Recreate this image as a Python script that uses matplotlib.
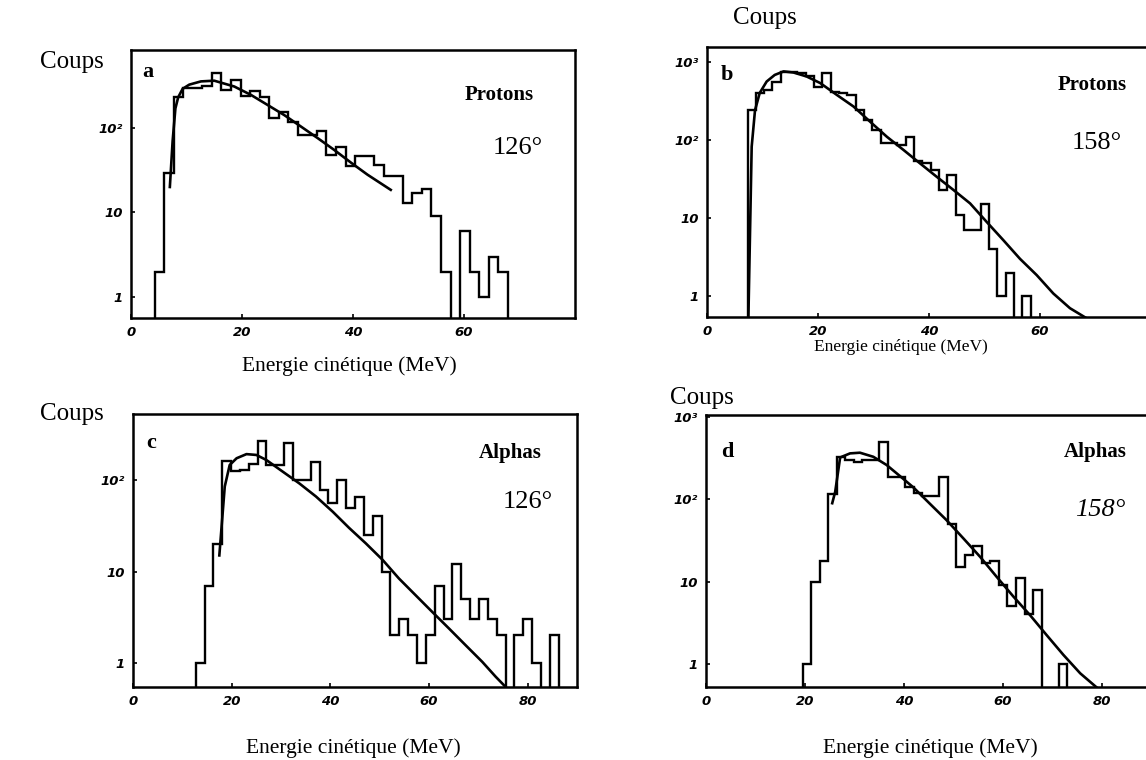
import matplotlib.pyplot as plt
import numpy as np

# --- histogrammes (coups par canal) et ajustements ---
# a : protons 126 deg
a_start, a_width = 4.26, 1.72
a_counts = [2, 29, 235, 295, 300, 310, 445, 280, 370, 240, 270, 235, 130, 156,
            118, 83, 83, 93, 48, 60, 35, 47, 47, 36, 27, 27, 13, 17, 19, 9,
            2, 0, 6, 2, 1, 3, 2]
a_fit_E = [7.0, 7.5, 8.0, 8.5, 9.3, 10.5, 12.6, 15.0, 18.6, 21.6, 24.6, 27.6,
           30.6, 33.6, 36.6, 39.6, 42.6, 46.8]
a_fit_N = [20, 70, 170, 230, 290, 325, 355, 362, 309, 246, 187, 142,
           104, 76, 55, 39, 28, 18.5]

# b : protons 158 deg
b_start, b_width = 7.3, 1.5
b_counts = [240, 400, 430, 560, 740, 740, 720, 650, 480, 720, 415, 400, 380,
            240, 180, 134, 91, 91, 85, 110, 53, 50, 41, 23, 36, 11, 7, 7, 15,
            4, 1, 2, 0, 1]
b_fit_E = [7.45, 8.05, 8.65, 9.5, 10.75, 12.2, 13.8, 15.6, 17.95, 20.4, 23.4,
           26.4, 29.4, 32.4, 35.4, 38.4, 41.4, 44.4, 47.4, 50.4, 53.4, 56.4,
           59.4, 62.4, 65.4, 68.4]
b_fit_N = [0.5, 82, 240, 400, 560, 680, 755, 730, 650, 535, 377, 268, 171,
           110, 74.5, 50, 33.7, 22.9, 15.4, 8.9, 5.2, 3.0, 1.86, 1.08, 0.7, 0.52]

# c : alphas 126 deg
c_start, c_width = 12.7, 1.795
c_counts = [1, 7, 20, 160, 125, 128, 150, 270, 146, 146, 252, 100, 100, 156,
            78, 56, 100, 49, 66, 25, 40, 10, 2, 3, 2, 1, 2, 7, 3, 12, 5, 3, 5,
            3, 2, 0, 2, 3, 1, 0, 2]
c_fit_E = [17.5, 18.6, 19.6, 21.0, 23.0, 25.0, 27.0, 30.4, 33.7, 37.1, 40.5,
           43.8, 47.2, 50.6, 53.9, 57.3, 60.7, 64.0, 67.4, 70.8, 73.5, 75.5]
c_fit_N = [15, 85, 146, 173, 192, 188, 166, 123, 92, 66, 45, 30, 20.3, 13.4,
           8.4, 5.5, 3.6, 2.4, 1.57, 1.03, 0.71, 0.55]

# d : alphas 158 deg
d_start, d_width = 19.5, 1.725
d_counts = [1, 10, 18, 115, 325, 300, 288, 300, 300, 500, 189, 189, 140, 120,
            110, 110, 189, 51, 15, 21, 27, 17, 18, 9, 5, 11, 4, 8, 0, 0, 1]
d_fit_E = [25.5, 26.1, 27.1, 29.1, 31.1, 33.8, 36.5, 39.2, 41.9, 45.2, 48.6,
           52.0, 55.4, 58.7, 62.1, 65.5, 68.8, 72.2, 75.6, 78.9]
d_fit_N = [90, 124, 324, 363, 370, 330, 262, 192, 140, 89, 56, 33.6, 20, 11.5,
           6.6, 3.9, 2.25, 1.29, 0.77, 0.52]

W, H = 1146, 760
fig = plt.figure(figsize=(W / 100, H / 100), dpi=100)
fig.patch.set_facecolor('white')

serif = 'Liberation Serif'
tickfont = dict(family='DejaVu Sans', style='italic', weight='bold', size=9.5)


def px_axes(left, top, right, bottom):
    return fig.add_axes([left / W, 1 - bottom / H, (right - left) / W, (bottom - top) / H])


panels = [
    dict(box=(131, 50, 575, 318), xlim=(0, 80), ylim=(0.564, 835),
         start=a_start, width=a_width, counts=a_counts, fE=a_fit_E, fN=a_fit_N,
         xt=[0, 20, 40, 60], yt=[1, 10, 100], letter='a', kind='Protons', angle='126°',
         kpos=(0.83, 0.832), apos=(0.872, 0.634), lpos=(0.025, 0.955), aital=False),
    dict(box=(707, 47, 1151, 317), xlim=(0, 80), ylim=(0.54, 1550),
         start=b_start, width=b_width, counts=b_counts, fE=b_fit_E, fN=b_fit_N,
         xt=[0, 20, 40, 60], yt=[1, 10, 100, 1000], letter='b', kind='Protons', angle='158°',
         kpos=(0.867, 0.859), apos=(0.878, 0.644), lpos=(0.03, 0.935), aital=False),
    dict(box=(133, 414, 577, 687), xlim=(0, 90), ylim=(0.547, 527),
         start=c_start, width=c_width, counts=c_counts, fE=c_fit_E, fN=c_fit_N,
         xt=[0, 20, 40, 60, 80], yt=[1, 10, 100], letter='c', kind='Alphas', angle='126°',
         kpos=(0.849, 0.857), apos=(0.89, 0.678), lpos=(0.03, 0.93), aital=False),
    dict(box=(706, 415, 1151.5, 687), xlim=(0, 90), ylim=(0.525, 1063),
         start=d_start, width=d_width, counts=d_counts, fE=d_fit_E, fN=d_fit_N,
         xt=[0, 20, 40, 60, 80], yt=[1, 10, 100, 1000], letter='d', kind='Alphas', angle='158°',
         kpos=(0.874, 0.864), apos=(0.885, 0.651), lpos=(0.035, 0.9), aital=True),
]

ylabels = {1: '1', 10: '10', 100: '10²', 1000: '10³'}

for p in panels:
    ax = px_axes(*p['box'])
    counts = np.array(p['counts'], dtype=float)
    edges = p['start'] + p['width'] * np.arange(len(counts) + 1)
    floor = 0.05
    ax.stairs(np.maximum(counts, floor), edges, baseline=floor, color='black', lw=1.7)
    ax.plot(p['fE'], p['fN'], color='black', lw=1.9)

    ax.set_yscale('log')
    ax.set_xlim(*p['xlim'])
    ax.set_ylim(*p['ylim'])
    ax.set_xticks(p['xt'])
    ax.set_xticklabels([str(v) for v in p['xt']], fontdict=tickfont)
    ax.set_yticks(p['yt'])
    ax.set_yticklabels([ylabels[v] for v in p['yt']], fontdict=tickfont)
    ax.minorticks_off()
    ax.tick_params(direction='in', length=3, width=1.2, pad=6)
    for s in ax.spines.values():
        s.set_linewidth(1.8)

    ax.text(*p['lpos'], p['letter'], transform=ax.transAxes, family=serif,
            weight='bold', fontsize=16, va='top', ha='left')
    ax.text(*p['kpos'], p['kind'], transform=ax.transAxes, family=serif,
            weight='bold', fontsize=15, va='center', ha='center')
    ax.text(*p['apos'], p['angle'], transform=ax.transAxes, family=serif,
            fontsize=19, va='center', ha='center',
            style='italic' if p['aital'] else 'normal')

# titres des axes
for x, y in [(72, 62), (765, 18), (72, 414), (702, 398)]:
    fig.text(x / W, 1 - y / H, 'Coups', family=serif, fontsize=18,
             ha='center', va='center')

for x, y, fs in [(349, 366, 15.5), (901, 347, 12.5), (353, 748, 15.5), (930, 748, 15.5)]:
    fig.text(x / W, 1 - y / H, 'Energie cinétique (MeV)', family=serif,
             fontsize=fs, ha='center', va='center')

fig.savefig('out.png', dpi=100)
